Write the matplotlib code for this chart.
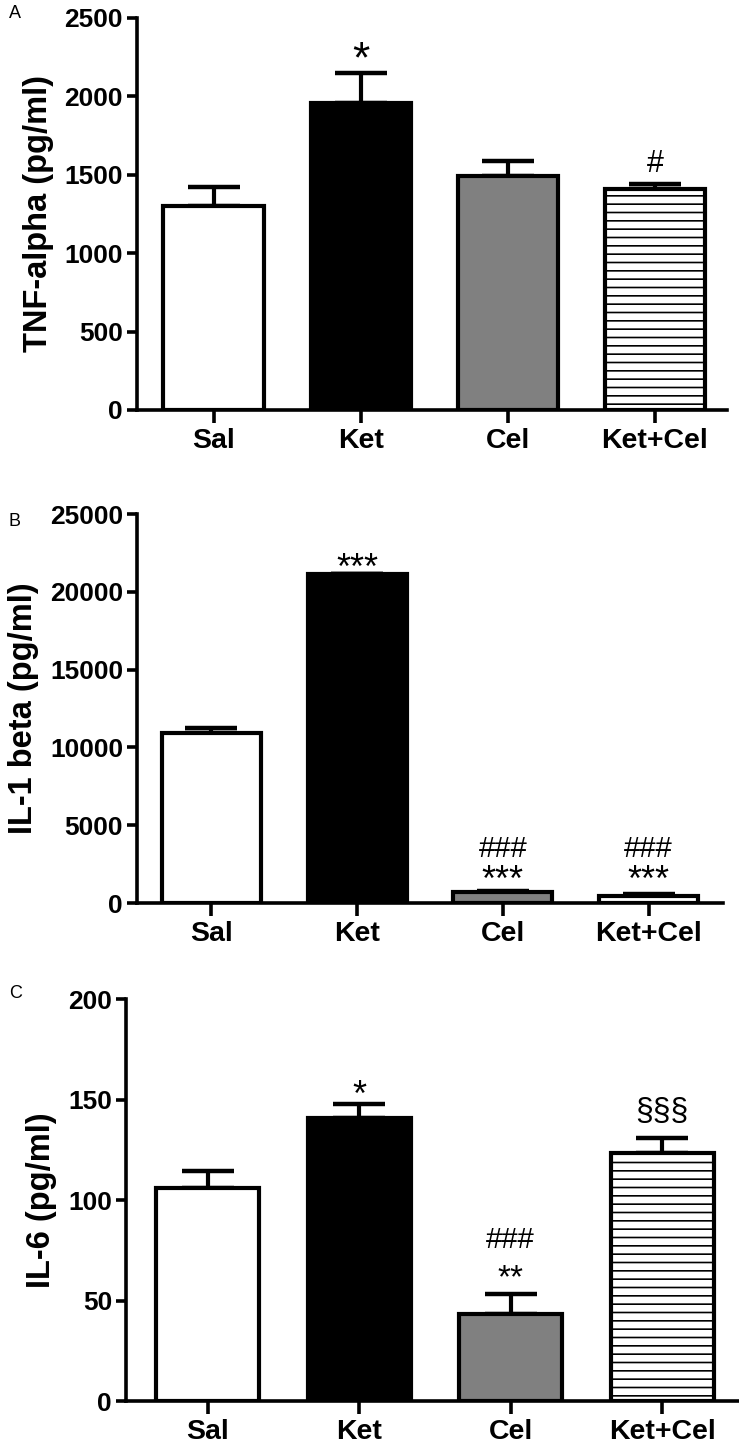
import numpy as np
import matplotlib
matplotlib.use("Agg")
import matplotlib.pyplot as plt

plt.rcParams['font.family'] = ['Liberation Sans', 'DejaVu Sans']
plt.rcParams['hatch.linewidth'] = 1.2

groups = ["Sal", "Ket", "Cel", "Ket+Cel"]
colors = ["white", "black", "#808080", "white"]
hatches = ["", "", "", "--"]

tnf_mean = [1300, 1955, 1493, 1406]
tnf_err = [123, 195, 94, 34]

il1_mean = [10960, 21140, 680, 480]
il1_err = [260, 0, 80, 80]

il6_mean = [106, 141, 43.5, 123.5]
il6_err = [8.5, 6.8, 9.7, 7.6]

# significance marks: (bar index, baseline y value, text, fontsize)
tnf_marks = [(1, 2150, "*", 32), (3, 1515, "#", 22)]
il1_marks = [(1, 20800, "***", 26), (2, 2960, "###", 21), (2, 780, "***", 26),
             (3, 2960, "###", 21), (3, 780, "***", 26)]
il6_marks = [(1, 147, "*", 26), (3, 139.8, "§§§", 23), (2, 76, "###", 21), (2, 56.5, "**", 24)]

panels = [
    ("A", 14, [0.1854, 0.7165, 0.7984, 0.2711], tnf_mean, tnf_err, 2500, 500,
     "TNF-alpha (pg/ml)", tnf_marks, (-0.52, 3.49)),
    ("B", 521, [0.1854, 0.3755, 0.7929, 0.2690], il1_mean, il1_err, 25000, 5000,
     "IL-1 beta (pg/ml)", il1_marks, (-0.51, 3.51)),
    ("C", 994, [0.1705, 0.0311, 0.8280, 0.2780], il6_mean, il6_err, 200, 50,
     "IL-6 (pg/ml)", il6_marks, (-0.54, 3.50)),
]

fig = plt.figure(figsize=(7.39, 14.46), dpi=100)
x = np.arange(len(groups))

for letter, ly, rect, mean, err, ymax, step, ylabel, marks, xlim in panels:
    ax = fig.add_axes(rect)
    ax.errorbar(x, mean, yerr=[np.zeros(4), err], fmt="none", ecolor="black",
                 elinewidth=3, capsize=19, capthick=3.2, zorder=1)
    ax.bar(x, mean, width=0.68, color=colors, edgecolor="black", linewidth=3,
           hatch=hatches, zorder=2)
    for i, yv, txt, fs in marks:
        ax.text(x[i], yv, txt, ha="center", va="baseline", fontsize=fs)
    ax.set_ylim(0, ymax)
    ax.set_xlim(*xlim)
    ax.set_yticks(np.arange(0, ymax + 1, step))
    ax.set_xticks(x)
    ax.set_xticklabels(groups)
    for s in ["top", "right"]:
        ax.spines[s].set_visible(False)
    for s in ["left", "bottom"]:
        ax.spines[s].set_linewidth(2.6)
    ax.tick_params(axis="y", length=7, width=2.6, labelsize=19, pad=3)
    ax.tick_params(axis="x", length=9, width=2.6, labelsize=20.5, pad=4)
    for lab in ax.get_xticklabels() + ax.get_yticklabels():
        lab.set_fontweight("bold")
    ax.set_ylabel(ylabel, fontsize=23.5, fontweight="bold", labelpad=8)
    fig.text(0.012, 1 - ly / 1446, letter, fontsize=13, ha="left", va="center")

fig.savefig("out.png", dpi=100)
